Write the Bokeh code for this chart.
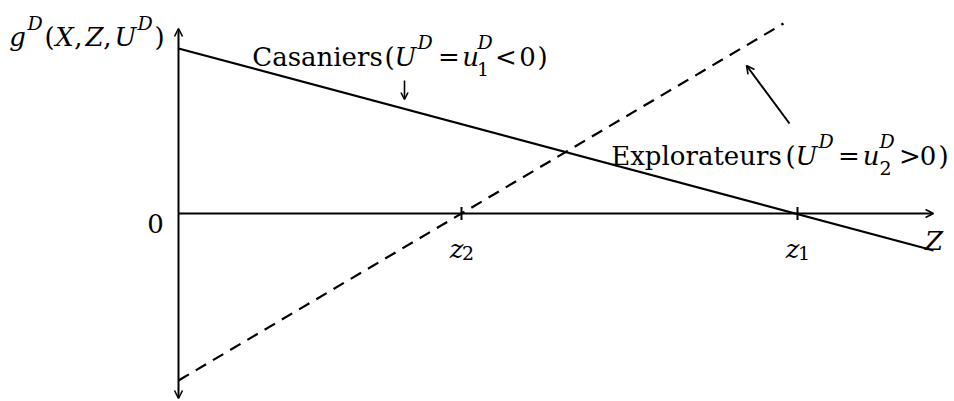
from bokeh.plotting import figure
from bokeh.models import Range1d, Arrow, OpenHead, Label, ColumnDataSource
from bokeh.embed import file_html
from bokeh.resources import INLINE

# ---- data ----
# "Casaniers" line (solid) and "Explorateurs" line (dashed): endpoints
casaniers_x = [0.0, 7.55]
casaniers_y = [1.65, -0.37]
explorateurs_x = [0.0, 6.05]
explorateurs_y = [-1.67, 1.90]
# roots on the Z axis
tick_values = [2.83, 6.19]
tick_names = ["z", "z"]
tick_subs = ["2", "1"]
# axis extents
z_axis_end = 7.55
g_axis_top = 1.85
g_axis_bottom = -1.85

FONT = "DejaVu Serif"
MAIN = "26px"
SMALL = "19px"

p = figure(width=954, height=401, output_backend="svg", toolbar_location=None,
           x_range=Range1d(-1.78, 7.76), y_range=Range1d(-1.88, 2.13),
           min_border=0, min_border_left=0, min_border_right=0,
           min_border_top=0, min_border_bottom=0)
p.xaxis.visible = False
p.yaxis.visible = False
p.grid.visible = False
p.outline_line_color = None
p.background_fill_color = "white"
p.border_fill_color = "white"

# axes
p.add_layout(Arrow(x_start=0, y_start=0, x_end=z_axis_end, y_end=0,
                   line_width=2, line_color="black",
                   end=OpenHead(size=8, line_width=1.6, line_color="black")))
p.add_layout(Arrow(x_start=0, y_start=g_axis_bottom, x_end=0, y_end=g_axis_top,
                   line_width=2, line_color="black",
                   start=OpenHead(size=8, line_width=1.6, line_color="black"),
                   end=OpenHead(size=8, line_width=1.6, line_color="black")))

# lines
p.line(casaniers_x, casaniers_y, line_color="black", line_width=2.2)
p.line(explorateurs_x, explorateurs_y, line_color="black", line_width=2.2,
       line_dash="12 8")

# ticks
tsrc = ColumnDataSource(dict(x=tick_values, y0=[-0.065] * len(tick_values),
                             y1=[0.065] * len(tick_values)))
p.segment(x0="x", y0="y0", x1="x", y1="y1", source=tsrc,
          line_color="black", line_width=2)


def lbl(text, x, y, size=MAIN, italic=False, align="center"):
    p.add_layout(Label(x=x, y=y, text=text, text_font=FONT, text_font_size=size,
                       text_font_style="italic" if italic else "normal",
                       text_align=align, text_baseline="alphabetic",
                       text_color="black"))


# tick labels
for v, n, s in zip(tick_values, tick_names, tick_subs):
    lbl(n, v - 0.05, -0.35, italic=True)
    lbl(s, v + 0.065, -0.39, size=SMALL)
lbl("0", -0.23, -0.10)
lbl("Z", 7.555, -0.27, italic=True)

# y-axis title g^D(X, Z, U^D)
lbl("g", -1.61, 1.77, italic=True)
lbl("D", -1.435, 1.91, size=SMALL, italic=True)
lbl("(", -1.29, 1.77)
lbl("X", -1.14, 1.77, italic=True)
lbl(",", -1.00, 1.77)
lbl("Z", -0.84, 1.77, italic=True)
lbl(",", -0.71, 1.77)
lbl("U", -0.53, 1.77, italic=True)
lbl("D", -0.335, 1.91, size=SMALL, italic=True)
lbl(")", -0.19, 1.77)

# Casaniers (U^D = u_1^D < 0)
lbl("Casaniers", 1.39, 1.57)
lbl("(", 2.11, 1.57)
lbl("U", 2.27, 1.57, italic=True)
lbl("D", 2.465, 1.72, size=SMALL, italic=True)
lbl("=", 2.705, 1.57)
lbl("u", 2.92, 1.57, italic=True)
lbl("D", 3.065, 1.72, size=SMALL, italic=True)
lbl("1", 3.045, 1.45, size=SMALL)
lbl("<", 3.275, 1.57)
lbl("0", 3.49, 1.57)
lbl(")", 3.64, 1.57)

# Explorateurs (U^D = u_2^D > 0)
lbl("Explorateurs", 5.18, 0.58)
lbl("(", 6.12, 0.58)
lbl("U", 6.28, 0.58, italic=True)
lbl("D", 6.475, 0.73, size=SMALL, italic=True)
lbl("=", 6.705, 0.58)
lbl("u", 6.925, 0.58, italic=True)
lbl("D", 7.085, 0.73, size=SMALL, italic=True)
lbl("2", 7.07, 0.46, size=SMALL)
lbl(">", 7.315, 0.58)
lbl("0", 7.495, 0.58)
lbl(")", 7.65, 0.58)

# pointer arrows
p.add_layout(Arrow(x_start=2.26, y_start=1.33, x_end=2.26, y_end=1.14,
                   line_width=1.6, line_color="black",
                   end=OpenHead(size=7, line_width=1.6, line_color="black")))
p.add_layout(Arrow(x_start=6.11, y_start=0.90, x_end=5.68, y_end=1.48,
                   line_width=2, line_color="black",
                   end=OpenHead(size=8, line_width=1.6, line_color="black")))

open("out.html", "w").write(file_html(p, INLINE))
